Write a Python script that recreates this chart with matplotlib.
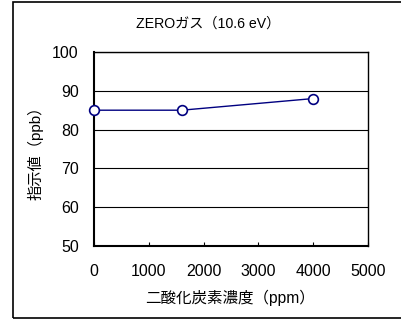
import numpy as np
import matplotlib
matplotlib.use('Agg')
import matplotlib.pyplot as plt
from matplotlib.patches import Rectangle

plt.rcParams['font.family'] = ['Liberation Sans', 'Noto Sans CJK JP', 'DejaVu Sans']

#data
co2_ppm = [0, 1600, 4000]
reading_ppb = [85, 85, 88]
x_ticks = [0, 1000, 2000, 3000, 4000, 5000]
y_ticks = [50, 60, 70, 80, 90, 100]

fig = plt.figure(figsize=(4.02, 3.2), dpi=100)
W, H = 402, 320
ax = fig.add_axes([94/W, 1-246/H, (368-94)/W, (246-52)/H])

#outer chart frame
fig.patches.append(Rectangle((13/W, 2/H), 1.2, (318-2)/H, transform=fig.transFigure,
                             fill=False, edgecolor='black', linewidth=1.2))

ax.plot(co2_ppm, reading_ppb, color='#000080', linewidth=1, marker='o',
        markersize=7, markerfacecolor='white', markeredgecolor='#000080',
        markeredgewidth=1.2, clip_on=False, zorder=5)

ax.set_xlim(0, 5000)
ax.set_ylim(50, 100)
ax.set_xticks(x_ticks)
ax.set_yticks(y_ticks)
ax.tick_params(axis='x', direction='in', length=3, pad=13, labelsize=11.5)
ax.tick_params(axis='y', length=0, pad=11, labelsize=11.5)
ax.yaxis.grid(True, color='black', linewidth=0.8)
ax.set_axisbelow(True)
for s in ax.spines.values():
    s.set_linewidth(1.0)
ax.spines['left'].set_linewidth(1.5)
ax.spines['bottom'].set_linewidth(1.5)

fig.text(208/W, 1-24/H, 'ZEROガス（10.6 eV）', ha='center', va='center', fontsize=10.2)
fig.text(230/W, 1-298/H, '二酸化炭素濃度（ppm）', ha='center', va='center', fontsize=11.2)
fig.text(35/W, 1-149/H, '指示値（ppb）', ha='center', va='center', fontsize=11, rotation=90)

plt.savefig('out.png', dpi=100)
